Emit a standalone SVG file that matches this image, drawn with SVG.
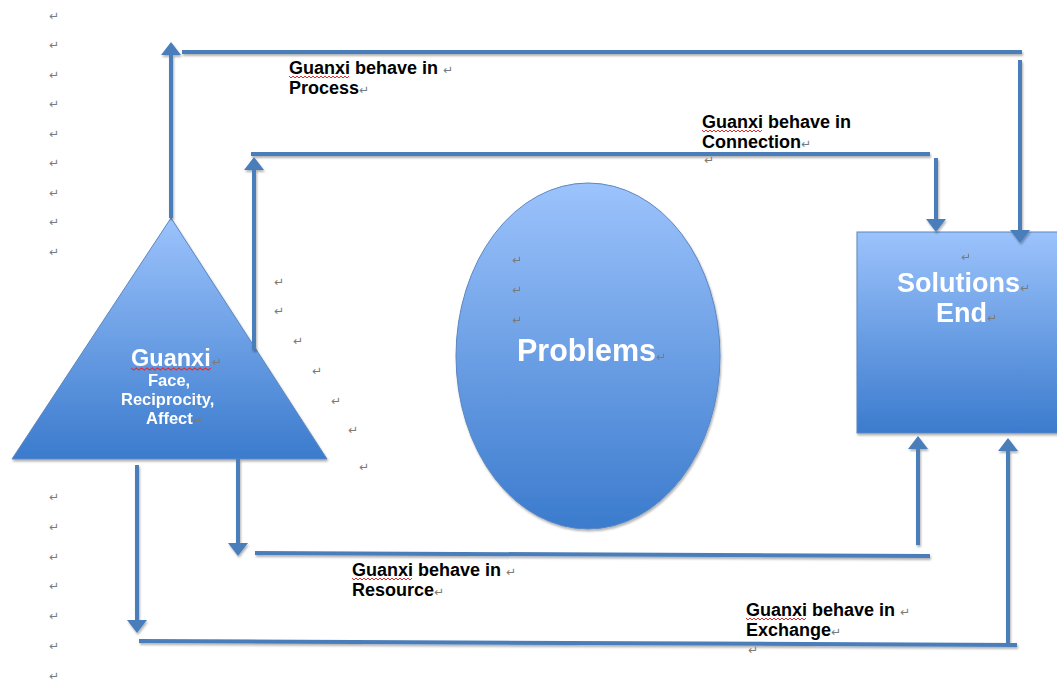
<svg xmlns="http://www.w3.org/2000/svg" width="1057" height="682" viewBox="0 0 1057 682">
  <style>
    .conn { fill: none; stroke: #4a7ebb; stroke-width: 4; }
    .arrow { marker-end: url(#head); }
    .shape { stroke: #5b87c2; stroke-width: 1; }
    .lbl { font-family: "Liberation Sans", Arial, sans-serif; font-weight: bold; font-size: 18px; fill: #000; }
    .inner { font-family: "Liberation Sans", Arial, sans-serif; font-weight: bold; fill: #fff; }
    .pm { font-family: "DejaVu Sans", sans-serif; font-weight: normal; font-size: 12px; fill: #7a7a7a; }
    .wave { fill: none; stroke: #e03030; stroke-width: 1; }
  </style>
  <defs>
    <linearGradient id="blue" x1="0" y1="0" x2="0" y2="1">
      <stop offset="0" stop-color="#9cc3fc"/>
      <stop offset="1" stop-color="#3b7bcd"/>
    </linearGradient>
    <marker id="head" viewBox="0 0 13 20" refX="0" refY="10" markerWidth="13" markerHeight="20" markerUnits="userSpaceOnUse" orient="auto">
      <path d="M0,0 L13,10 L0,20 z" fill="#4a7ebb"/>
    </marker>
    <filter id="shadow" x="-10%" y="-10%" width="130%" height="130%">
      <feDropShadow dx="1" dy="2" stdDeviation="1.2" flood-color="#000" flood-opacity="0.3"/>
    </filter>
    <path id="squiggle" d="M0,0 l2,2 l2,-2 l2,2 l2,-2 l2,2 l2,-2 l2,2 l2,-2 l2,2 l2,-2 l2,2 l2,-2 l2,2 l2,-2 l2,2 l2,-2 l2,2 l2,-2 l2,2 l2,-2 l2,2 l2,-2 l2,2 l2,-2 l2,2 l2,-2 l2,2 l2,-2 l2,2 l2,-2"/>
  </defs>

  <rect width="1057" height="682" fill="#fff"/>

  <!-- paragraph marks of the page text -->
  <g id="page-marks" class="pm">
    <text x="49" y="20">↵</text>
    <text x="49" y="49">↵</text>
    <text x="49" y="79">↵</text>
    <text x="49" y="108">↵</text>
    <text x="49" y="138">↵</text>
    <text x="49" y="167">↵</text>
    <text x="49" y="197">↵</text>
    <text x="49" y="226">↵</text>
    <text x="49" y="256">↵</text>
    <text x="49" y="501">↵</text>
    <text x="49" y="531">↵</text>
    <text x="49" y="561">↵</text>
    <text x="49" y="590">↵</text>
    <text x="49" y="620">↵</text>
    <text x="49" y="650">↵</text>
    <text x="49" y="680">↵</text>
    <text x="274" y="286">↵</text>
    <text x="274" y="315">↵</text>
    <text x="293" y="345">↵</text>
    <text x="312" y="375">↵</text>
    <text x="331" y="405">↵</text>
    <text x="348" y="434">↵</text>
    <text x="359" y="471">↵</text>
  </g>

  <!-- Guanxi triangle -->
  <g id="guanxi" filter="url(#shadow)">
    <polygon class="shape" points="171,218 327,459 12,459" fill="url(#blue)"/>
    <text class="inner" x="131" y="366" font-size="23.5">Guanxi<tspan class="pm" dx="1">↵</tspan></text>
    <use href="#squiggle" class="wave" transform="translate(131,368) scale(1.33,1)"/>
    <text class="inner" x="148" y="386" font-size="16.5">Face,</text>
    <text class="inner" x="121" y="405" font-size="16.5">Reciprocity,</text>
    <text class="inner" x="146" y="424" font-size="16.5">Affect<tspan class="pm">↵</tspan></text>
  </g>

  <!-- Problems ellipse -->
  <g id="problems" filter="url(#shadow)">
    <ellipse class="shape" cx="588" cy="356" rx="132" ry="173" fill="url(#blue)"/>
    <text class="pm" x="512" y="264">↵</text>
    <text class="pm" x="512" y="294">↵</text>
    <text class="pm" x="512" y="324">↵</text>
    <text class="inner" x="517" y="361" font-size="30.5">Problems<tspan class="pm">↵</tspan></text>
  </g>

  <!-- Solutions box -->
  <g id="solutions" filter="url(#shadow)">
    <rect class="shape" x="857" y="232" width="205" height="201" fill="url(#blue)"/>
    <text class="pm" x="961" y="261">↵</text>
    <text class="inner" x="897" y="292" font-size="27">Solutions<tspan class="pm">↵</tspan></text>
    <text class="inner" x="936" y="322" font-size="27">End<tspan class="pm">↵</tspan></text>
  </g>

  <!-- connectors -->
  <g id="connectors" filter="url(#shadow)">
    <!-- Process -->
    <path class="conn arrow" d="M171,218 V55"/>
    <path class="conn" d="M182,52 H1022"/>
    <path class="conn arrow" d="M1020,60 V230"/>
    <!-- Connection -->
    <path class="conn arrow" d="M254,350 V170"/>
    <path class="conn" d="M251,154 H930"/>
    <path class="conn arrow" d="M936,158 V219"/>
    <!-- Resource -->
    <path class="conn arrow" d="M238,459 V543"/>
    <path class="conn" d="M255,553 L930,556"/>
    <path class="conn arrow" d="M918,545 V449"/>
    <!-- Exchange -->
    <path class="conn arrow" d="M137,465 V620"/>
    <path class="conn" d="M139,641 L1017,645"/>
    <path class="conn arrow" d="M1008,645 V451"/>
  </g>

  <!-- connector labels -->
  <g id="label-process">
    <text class="lbl" x="289" y="74">Guanxi behave in <tspan class="pm">↵</tspan></text>
    <use href="#squiggle" class="wave" transform="translate(289,76)"/>
    <text class="lbl" x="289" y="94">Process<tspan class="pm">↵</tspan></text>
  </g>
  <g id="label-connection">
    <text class="lbl" x="702" y="128">Guanxi behave in</text>
    <use href="#squiggle" class="wave" transform="translate(702,130)"/>
    <text class="lbl" x="702" y="148">Connection<tspan class="pm">↵</tspan></text>
    <text class="pm" x="704" y="164" font-size="8">↵</text>
  </g>
  <g id="label-resource">
    <text class="lbl" x="352" y="576">Guanxi behave in <tspan class="pm">↵</tspan></text>
    <use href="#squiggle" class="wave" transform="translate(352,578)"/>
    <text class="lbl" x="352" y="596">Resource<tspan class="pm">↵</tspan></text>
  </g>
  <g id="label-exchange">
    <text class="lbl" x="746" y="616">Guanxi behave in <tspan class="pm">↵</tspan></text>
    <use href="#squiggle" class="wave" transform="translate(746,618)"/>
    <text class="lbl" x="746" y="636">Exchange<tspan class="pm">↵</tspan></text>
    <text class="pm" x="748" y="654" font-size="8">↵</text>
  </g>
</svg>
